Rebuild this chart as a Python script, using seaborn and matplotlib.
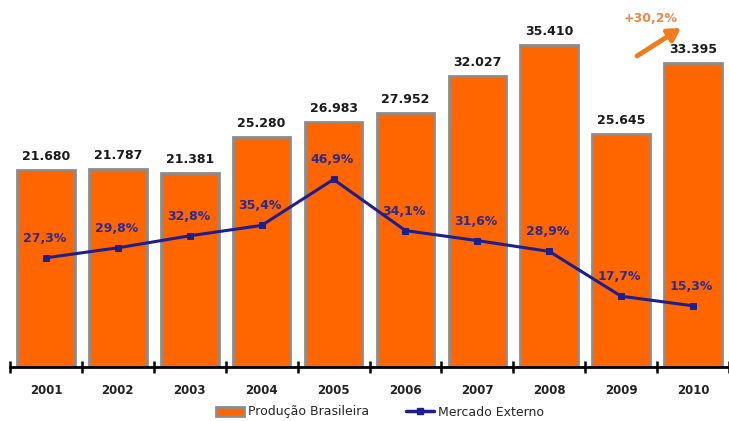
import numpy as np
import matplotlib.pyplot as plt
import seaborn as sns
from matplotlib.patches import Patch
from matplotlib.lines import Line2D

years = ['2001', '2002', '2003', '2004', '2005', '2006', '2007', '2008', '2009', '2010']
producao = [21680, 21787, 21381, 25280, 26983, 27952, 32027, 35410, 25645, 33395]
producao_labels = ['21.680', '21.787', '21.381', '25.280', '26.983', '27.952',
                   '32.027', '35.410', '25.645', '33.395']
mercado_ext = [27.3, 29.8, 32.8, 35.4, 46.9, 34.1, 31.6, 28.9, 17.7, 15.3]
mercado_labels = ['27,3%', '29,8%', '32,8%', '35,4%', '46,9%', '34,1%',
                  '31,6%', '28,9%', '17,7%', '15,3%']

ORANGE = '#FF6600'
EDGE = '#8C8C8C'
NAVY = '#1E1E8C'
LABEL_NAVY = '#2E2A8C'

sns.set_style('white')
plt.rcParams['font.family'] = ['DejaVu Sans']

fig = plt.figure(figsize=(7.29, 4.21), dpi=100)
W, H = 729, 421
ax = fig.add_axes([10 / W, 1 - 367 / H, 719 / W, 362 / H])

sns.barplot(x=years, y=producao, color=ORANGE, width=0.8, ax=ax,
            edgecolor=EDGE, linewidth=2, saturation=1)

ax.set_ylim(0, 35410 * 362 / 322)
ax.set_xlim(-0.5, 9.39)

for i, (v, lab) in enumerate(zip(producao, producao_labels)):
    ax.annotate(lab, (i, v), xytext=(0, 5), textcoords='offset points',
                ha='center', va='bottom', fontsize=9, fontweight='bold',
                color='#1a1a1a')

ax2 = ax.twinx()
ax2.set_ylim(0, 362 / 4)
x = np.arange(len(years))
sns.lineplot(x=x, y=mercado_ext, color=NAVY, linewidth=2.2, marker='s',
             markersize=5, markeredgecolor=NAVY, ax=ax2)
for i, (v, lab) in enumerate(zip(mercado_ext, mercado_labels)):
    ax2.annotate(lab, (i, v), xytext=(-1, 14), textcoords='offset points',
                 ha='center', va='center', fontsize=9, fontweight='bold',
                 color=LABEL_NAVY)

for a in (ax, ax2):
    for s in ('top', 'right', 'left'):
        a.spines[s].set_visible(False)
    a.set_yticks([])
    a.set_ylabel('')
ax2.spines['bottom'].set_visible(False)
ax.spines['bottom'].set_linewidth(2)
ax.spines['bottom'].set_color('black')

ax.set_xticks(x)
ax.set_xticklabels(years, fontsize=8.5, fontweight='bold', color='#222222')
ax.set_xticks(np.arange(-0.5, 10, 1), minor=True)
ax.tick_params(axis='x', which='both', bottom=True)
ax.tick_params(axis='x', which='major', length=0, pad=12)
ax.tick_params(axis='x', which='minor', direction='inout', length=9,
               width=1.8, color='black')

# crescimento 2009 -> 2010
ax.annotate('', xy=(681 / W, 1 - 28 / H), xytext=(637 / W, 1 - 56 / H),
            xycoords='figure fraction', textcoords='figure fraction',
            arrowprops=dict(arrowstyle='-|>,head_length=0.6,head_width=0.35',
                            color='#F07D1E', lw=3.5, mutation_scale=12,
                            shrinkA=0, shrinkB=0))
fig.text(651 / W, 1 - 18 / H, '+30,2%', ha='center', va='center',
         fontsize=9, fontweight='bold', color='#F0884A')

handles = [Patch(facecolor=ORANGE, edgecolor=EDGE, linewidth=2),
           Line2D([0], [0], color=NAVY, linewidth=2.5, marker='s', markersize=5)]
fig.legend(handles, ['Produção Brasileira', 'Mercado Externo'],
           loc='center', bbox_to_anchor=(380 / W, 1 - 412 / H), ncol=2,
           frameon=False, fontsize=9, handlelength=2.2, columnspacing=3,
           handletextpad=0.3)

fig.savefig('out.png', dpi=100)
